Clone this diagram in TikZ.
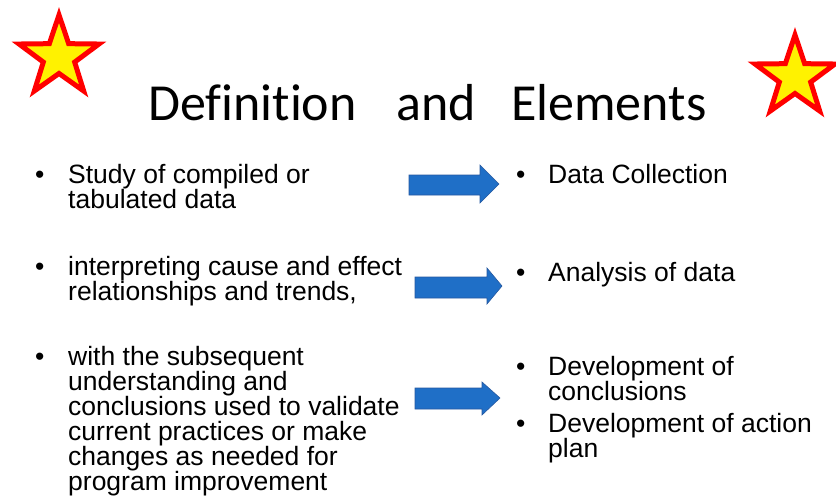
\documentclass[tikz,border=0pt]{standalone}
\usepackage{fontspec}
\setmainfont{Liberation Sans}
\newfontfamily\titlefont[Ligatures=NoCommon]{Carlito}
\usetikzlibrary{shapes.geometric}

\definecolor{arrowblue}{RGB}{31,111,199}
\definecolor{arrowedge}{RGB}{38,88,160}

\begin{document}
\begin{tikzpicture}[x=1pt, y=-1pt,
	bodytext/.style={anchor=base west, inner sep=0pt, align=left, font=\fontsize{26.5}{25}\selectfont},
	bulletdot/.style={anchor=base west, inner sep=0pt, font=\fontsize{26.5}{25}\selectfont},
	starbox/.style={star, star points=5, star point ratio=2.55, minimum size=84pt, inner sep=0pt, fill=yellow, draw=red, line width=5pt},
	blockarrow/.style={fill=arrowblue, draw=arrowedge, line width=0.6pt}]
	\useasboundingbox (0, 0) rectangle (836, 499);

	% stars
	\node [starbox] (starleft) at (59, 57) {};
	\node [starbox, minimum size=84pt] (starright) at (795, 77) {};

	% title
	\node [anchor=base west, inner sep=0pt, font=\titlefont\fontsize{52}{52}\selectfont] (title) at (148, 120) {Definition\hspace{40pt}and\hspace{35pt}Elements};

	% left column (base = last line)
	\node [bulletdot] (b1) at (35, 183) {•};
	\node [bodytext] (study) at (68, 208) {Study of compiled or\\tabulated data};
	\node [bulletdot] (b2) at (35, 275) {•};
	\node [bodytext] (cause) at (68, 300) {interpreting cause and effect\\relationships and trends,};
	\node [bulletdot] (b3) at (35, 365) {•};
	\node [bodytext] (subsequent) at (68, 490) {with the subsequent\\understanding and\\conclusions used to validate\\current practices or make\\changes as needed for\\program improvement};

	% arrows
	\fill [blockarrow] (409, 175) -- (480, 175) -- (480, 165) -- (499, 184) -- (480, 203) -- (480, 195) -- (409, 195) -- cycle;
	\fill [blockarrow] (415, 277) -- (487, 277) -- (487, 268) -- (502, 286) -- (487, 304) -- (487, 298) -- (415, 298) -- cycle;
	\fill [blockarrow] (415, 388) -- (482, 388) -- (482, 382) -- (500, 398) -- (482, 415) -- (482, 409) -- (415, 409) -- cycle;

	% right column
	\node [bulletdot] (b4) at (516, 183) {•};
	\node [bodytext] (collection) at (548, 183) {Data Collection};
	\node [bulletdot] (b5) at (516, 281) {•};
	\node [bodytext] (analysis) at (548, 281) {Analysis of data};
	\node [bulletdot] (b6) at (516, 375) {•};
	\node [bodytext] (conclusions) at (548, 400) {Development of\\conclusions};
	\node [bulletdot] (b7) at (516, 432) {•};
	\node [bodytext] (action) at (548, 457) {Development of action\\plan};
\end{tikzpicture}
\end{document}
